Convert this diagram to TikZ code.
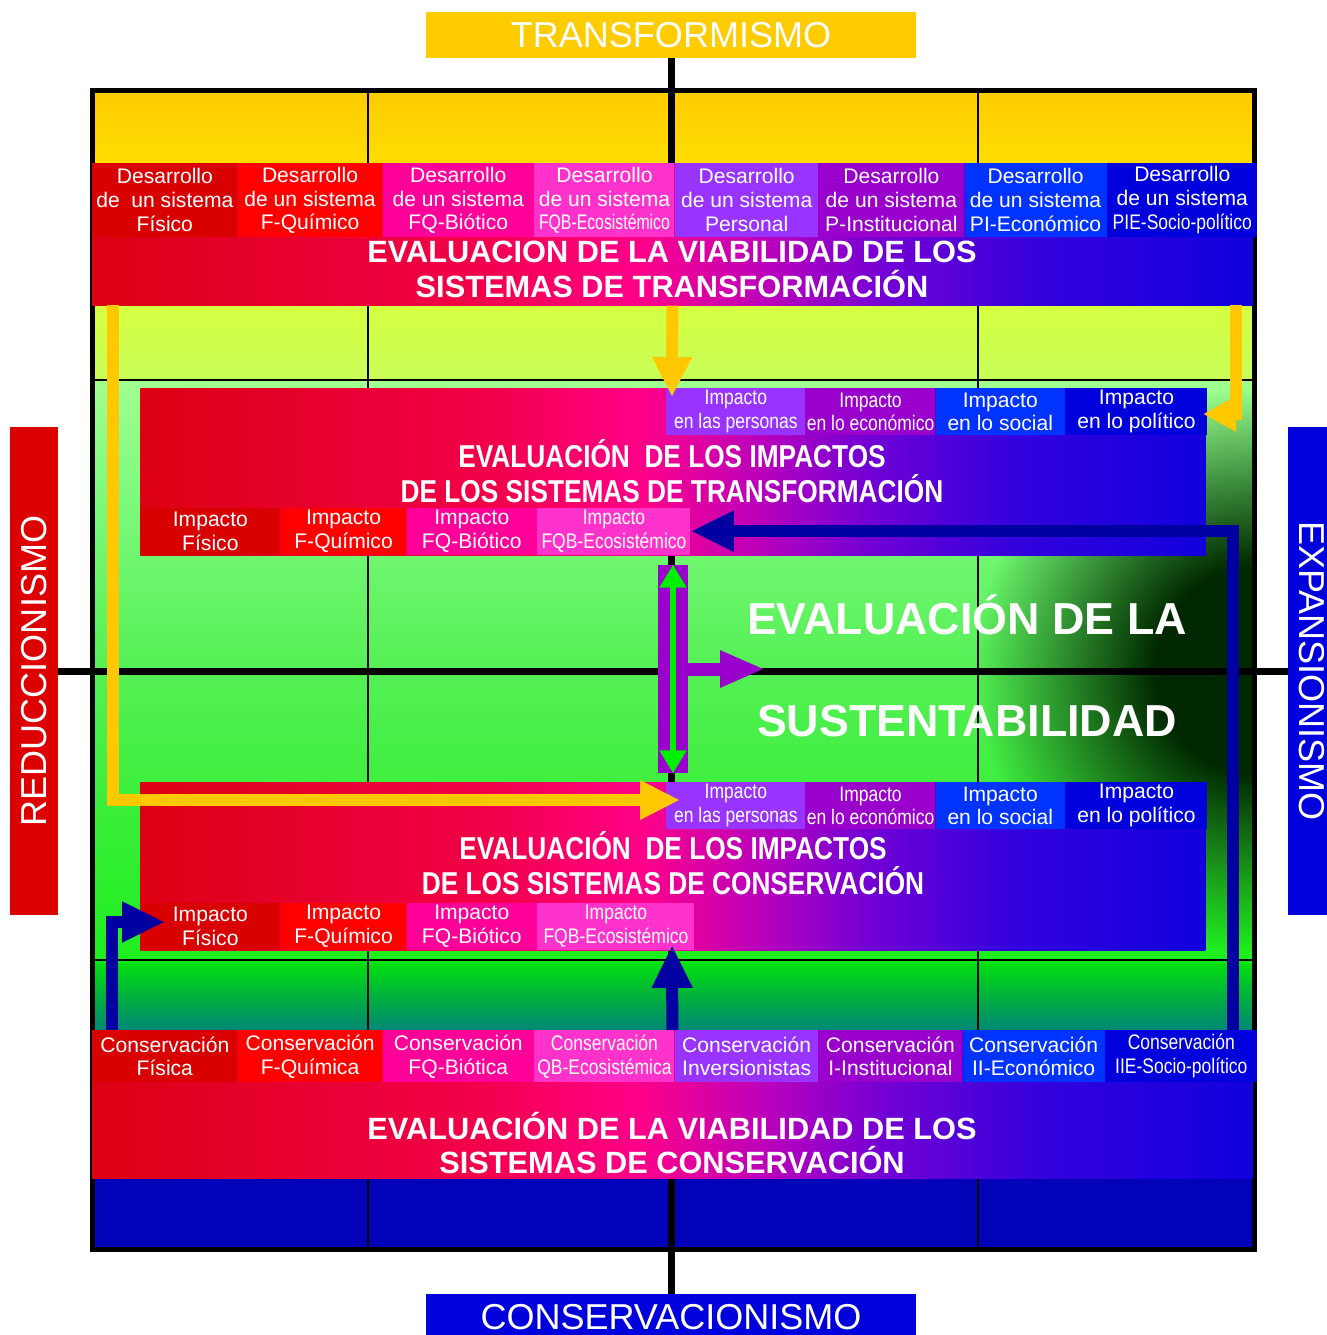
\documentclass[tikz,border=0pt]{standalone}
\usepackage{fontspec}
\setmainfont{Liberation Sans}
\newfontfamily\narrowsf[FakeStretch=0.83]{Liberation Sans}
\newfontfamily\tightsf[FakeStretch=0.75]{Liberation Sans}
\usepackage{tikz}
\usetikzlibrary{arrows.meta,positioning,fadings}

\definecolor{cellA}{HTML}{D80000}
\definecolor{cellB}{HTML}{FF0000}
\definecolor{cellC}{HTML}{FF0099}
\definecolor{cellD}{HTML}{FF33CC}
\definecolor{cellE}{HTML}{9933FF}
\definecolor{cellF}{HTML}{9900CC}
\definecolor{cellG}{HTML}{0033FF}
\definecolor{cellH}{HTML}{0000DD}
\definecolor{arrYel}{HTML}{FFC800}
\definecolor{arrBlue}{HTML}{0000A0}
\definecolor{arrGreen}{HTML}{00EE00}
\definecolor{sideRed}{HTML}{DD0000}
\definecolor{sideBlue}{HTML}{0000DD}
\definecolor{sideYel}{HTML}{FFCC00}
\definecolor{yelLow}{HTML}{FFDD00}
\definecolor{deepBlue}{HTML}{0202B8}
\definecolor{darkGreen}{HTML}{002800}
% band gradient stops
\definecolor{gA}{HTML}{DC0012}
\definecolor{gB}{HTML}{F2004A}
\definecolor{gC}{HTML}{FF0088}
\definecolor{gD}{HTML}{BB00BB}
\definecolor{gE}{HTML}{7400D4}
\definecolor{gF}{HTML}{3300DD}
\definecolor{gG}{HTML}{1100DD}
% field gradient stops
\definecolor{fA}{HTML}{008877}
\definecolor{fB}{HTML}{00AA44}
\definecolor{fC}{HTML}{00DD11}
\definecolor{fD}{HTML}{1EEE1E}
\definecolor{fE}{HTML}{33EE33}
\definecolor{fF}{HTML}{55F055}
\definecolor{fG}{HTML}{80FA80}
\definecolor{fH}{HTML}{A0FF90}
\definecolor{fI}{HTML}{C8FF58}
\definecolor{fJ}{HTML}{D6FF40}

% the path is mapped onto 25bp..75bp of each shading
\pgfdeclarehorizontalshading{evalshade}{100bp}{color(0bp)=(gA); color(25bp)=(gA); color(41.5bp)=(gB); color(48.5bp)=(gC); color(54bp)=(gD); color(59bp)=(gE); color(66bp)=(gF); color(75bp)=(gG); color(100bp)=(gG)}
\pgfdeclareverticalshading{fieldshade}{100bp}{color(0bp)=(fA); color(25bp)=(fA); color(27bp)=(fB); color(29.5bp)=(fC); color(30bp)=(fD); color(37.5bp)=(fE); color(50bp)=(fF); color(62.5bp)=(fG); color(69.75bp)=(fH); color(69.9bp)=(fI); color(75bp)=(fJ); color(100bp)=(fJ)}
\pgfdeclareradialshading{spotshade}{\pgfpointorigin}{color(0bp)=(pgftransparent!0); color(8.5bp)=(pgftransparent!0); color(23.5bp)=(pgftransparent!100); color(50bp)=(pgftransparent!100)}
\pgfdeclarefading{spotfade}{\pgfuseshading{spotshade}}

\tikzset{
  cellbox/.style={inner sep=0pt, text=white, align=center, font=\fontsize{12}{13.6}\selectfont},
  narrowbox/.style={cellbox, font=\narrowsf\fontsize{12}{13.6}\selectfont},
  devrow/.style={minimum height=14.8mm},
  improw/.style={minimum height=9.4mm},
  consrow/.style={minimum height=10.4mm},
  evalband/.style={shade, shading=evalshade, inner sep=0pt, anchor=north west},
  bandtitle/.style={text=white, align=center, inner sep=0pt, font=\bfseries\fontsize{17.5}{19.9}\selectfont},
  imptitle/.style={text=white, align=center, inner sep=0pt, font=\narrowsf\bfseries\fontsize{18}{19.9}\selectfont},
  sidebox/.style={text=white, inner sep=0pt, font=\fontsize{20.5}{24}\selectfont},
  axisline/.style={line width=1.4mm},
  gridline/.style={line width=0.5mm},
  yarr/.style={draw=arrYel, line width=2.4mm, -{Triangle[length=8mm,width=7.4mm]}},
  barr/.style={draw=arrBlue, line width=2.4mm, -{Triangle[length=8.6mm,width=7.6mm]}},
  garr/.style={draw=arrGreen, line width=1.2mm, {Triangle[length=4.6mm,width=5.2mm]}-{Triangle[length=4.6mm,width=5.2mm]}},
  parr/.style={draw=cellF, line width=2.6mm, -{Triangle[length=9mm,width=6.8mm]}}
}

\begin{document}
\begin{tikzpicture}[x=0.2mm, y=-0.2mm]
\useasboundingbox (0,0) rectangle (1327,1335);

% background field
\shade[top color=sideYel, bottom color=yelLow] (95,93) rectangle (1252,163);
\shade[shading=fieldshade] (95,305) rectangle (1252,1030);
\fill[deepBlue] (95,1178) rectangle (1252,1247);
\begin{scope}
  \clip (95,305) rectangle (1252,1030);
  \fill[darkGreen, path fading=spotfade] (1258,670) circle (300);
\end{scope}
\draw[gridline] (368,93) -- (368,1247) (978,93) -- (978,1247);
\draw[gridline] (95,380) -- (1252,380) (95,960) -- (1252,960);
\draw[line width=1mm] (92.5,90.5) rectangle (1254.5,1249.5);

% side labels and axes
\node[sidebox, fill=sideYel, minimum width=98mm, minimum height=9.2mm] (transf) at (671,35) {TRANSFORMISMO};
\node[sidebox, fill=sideBlue, minimum width=98mm, minimum height=9.2mm] (conserv) at (671,1317) {CONSERVACIONISMO};
\node[sidebox, fill=sideRed, minimum width=97.6mm, minimum height=9.6mm, rotate=90] (reduc) at (34,671) {REDUCCIONISMO};
\node[sidebox, fill=sideBlue, minimum width=97.6mm, minimum height=9.6mm, rotate=-90] (expan) at (1312,671) {EXPANSIONISMO};
\draw[axisline] (transf) -- (conserv);
\draw[axisline] (reduc) -- (expan);

% development band
\node[evalband, minimum width=232mm, minimum height=28.4mm] (tband) at (92,163) {};
\node[cellbox, devrow, fill=cellA, minimum width=29mm, anchor=north west] (dev1) at (92,163) {Desarrollo\\de\ \ un sistema\\Físico};
\node[cellbox, devrow, fill=cellB, minimum width=28.8mm, right=0pt of dev1] (dev2) {Desarrollo\\de un sistema\\F-Químico};
\node[cellbox, devrow, fill=cellC, minimum width=30.2mm, right=0pt of dev2] (dev3) {Desarrollo\\de un sistema\\FQ-Biótico};
\node[cellbox, devrow, fill=cellD, minimum width=28mm, right=0pt of dev3] (dev4) {Desarrollo\\de un sistema\\{\tightsf FQB-Ecosistémico}};
\node[cellbox, devrow, fill=cellE, minimum width=28.6mm, right=0pt of dev4] (dev5) {Desarrollo\\de un sistema\\Personal};
\node[cellbox, devrow, fill=cellF, minimum width=29mm, right=0pt of dev5] (dev6) {Desarrollo\\de un sistema\\P-Institucional};
\node[cellbox, devrow, fill=cellG, minimum width=28.4mm, right=0pt of dev6] (dev7) {Desarrollo\\de un sistema\\PI-Económico};
\node[cellbox, devrow, fill=cellH, minimum width=30mm, right=0pt of dev7] (dev8) {Desarrollo\\de un sistema\\{\narrowsf PIE-Socio-político}};
\node[bandtitle] (devtitle) at (672,269) {EVALUACION DE LA VIABILIDAD DE LOS\\SISTEMAS DE TRANSFORMACIÓN};

% impacts of transformation
\node[evalband, minimum width=213mm, minimum height=33.4mm] (impT) at (140,388) {};
\node[narrowbox, improw, fill=cellE, minimum width=27.8mm, anchor=north west] (impT1) at (666,388) {Impacto\\en las personas};
\node[narrowbox, improw, fill=cellF, minimum width=25.8mm, right=0pt of impT1] (impT2) {Impacto\\en lo económico};
\node[cellbox, improw, fill=cellG, minimum width=25.8mm, right=0pt of impT2] (impT3) {Impacto\\en lo social};
\node[cellbox, improw, fill=cellH, minimum width=28.4mm, right=0pt of impT3] (impT4) {Impacto\\en lo político};
\node[cellbox, improw, fill=cellA, minimum width=28mm, anchor=south west] (impT5) at (140,555) {Impacto\\Físico};
\node[cellbox, improw, fill=cellB, minimum width=25mm, right=0pt of impT5] (impT6) {Impacto\\F-Químico};
\node[cellbox, improw, fill=cellC, minimum width=26mm, right=0pt of impT6] (impT7) {Impacto\\FQ-Biótico};
\node[narrowbox, improw, fill=cellD, minimum width=30.6mm, right=0pt of impT7] (impT8) {Impacto\\FQB-Ecosistémico};
\node[imptitle] (impTtitle) at (672,471) {EVALUACIÓN\ \ DE LOS IMPACTOS\\DE LOS SISTEMAS DE TRANSFORMACIÓN};

% impacts of conservation
\node[evalband, minimum width=213mm, minimum height=33.6mm] (impC) at (140,782) {};
\node[narrowbox, improw, fill=cellE, minimum width=27.8mm, anchor=north west] (impC1) at (666,782) {Impacto\\en las personas};
\node[narrowbox, improw, fill=cellF, minimum width=25.8mm, right=0pt of impC1] (impC2) {Impacto\\en lo económico};
\node[cellbox, improw, fill=cellG, minimum width=25.8mm, right=0pt of impC2] (impC3) {Impacto\\en lo social};
\node[cellbox, improw, fill=cellH, minimum width=28.4mm, right=0pt of impC3] (impC4) {Impacto\\en lo político};
\node[cellbox, improw, fill=cellA, minimum width=28mm, anchor=south west] (impC5) at (140,950) {Impacto\\Físico};
\node[cellbox, improw, fill=cellB, minimum width=25mm, right=0pt of impC5] (impC6) {Impacto\\F-Químico};
\node[cellbox, improw, fill=cellC, minimum width=26mm, right=0pt of impC6] (impC7) {Impacto\\FQ-Biótico};
\node[narrowbox, improw, fill=cellD, minimum width=31.4mm, right=0pt of impC7] (impC8) {Impacto\\FQB-Ecosistémico};
\node[imptitle] (impCtitle) at (673,863) {EVALUACIÓN\ \ DE LOS IMPACTOS\\DE LOS SISTEMAS DE CONSERVACIÓN};

% conservation band
\node[evalband, minimum width=232mm, minimum height=29.6mm] (cband) at (92,1030) {};
\node[cellbox, consrow, fill=cellA, minimum width=29mm, anchor=north west] (con1) at (92,1030) {Conservación\\Física};
\node[cellbox, consrow, fill=cellB, minimum width=28.8mm, right=0pt of con1] (con2) {Conservación\\F-Química};
\node[cellbox, consrow, fill=cellC, minimum width=30.2mm, right=0pt of con2] (con3) {Conservación\\FQ-Biótica};
\node[narrowbox, consrow, fill=cellD, minimum width=28mm, right=0pt of con3] (con4) {Conservación\\QB-Ecosistémica};
\node[cellbox, consrow, fill=cellE, minimum width=28.6mm, right=0pt of con4] (con5) {Conservación\\Inversionistas};
\node[cellbox, consrow, fill=cellF, minimum width=28.6mm, right=0pt of con5] (con6) {Conservación\\I-Institucional};
\node[cellbox, consrow, fill=cellG, minimum width=28.4mm, right=0pt of con6] (con7) {Conservación\\II-Económico};
\node[narrowbox, consrow, fill=cellH, minimum width=30.4mm, right=0pt of con7] (con8) {Conservación\\IIE-Socio-político};
\node[bandtitle] (contitle) at (672,1143) {EVALUACIÓN DE LA VIABILIDAD DE LOS\\SISTEMAS DE CONSERVACIÓN};

% yellow arrows
\coordinate (yl0) at (113,305);
\coordinate (yl1) at (680,800);
\coordinate (ym1) at (672,397);
\coordinate (yr0) at (1236,305);
\coordinate (yr1) at (1203,414);
\draw[yarr] (yl0) |- (yl1);
\draw[yarr] (tband.south) -- (ym1);
\draw[yarr, -{Triangle[length=6.6mm,width=6.6mm]}] (yr0) |- (yr1);

% blue arrows
\coordinate (br0) at (1233,1030);
\coordinate (bl0) at (112,1030);
\coordinate (bl1) at (165,922);
\coordinate (bm1) at (672,945);
\draw[barr] (br0) |- (impT8.east);
\draw[barr] (bl0) |- (bl1);
\draw[barr] (cband.north) -- (bm1);

% link between impacts and sustainability
\node[fill=cellF, minimum width=6mm, minimum height=41.6mm, inner sep=0pt] (linkbar) at (673,669) {};
\draw[garr] (linkbar.north) -- (linkbar.south);
\coordinate (pa1) at (765,669);
\draw[parr] (linkbar.east) -- (pa1);

\node[text=white, align=center, inner sep=0pt, font=\bfseries\fontsize{25.5}{58}\selectfont] (sust) at (967,666) {EVALUACIÓN DE LA\\SUSTENTABILIDAD};
\end{tikzpicture}
\end{document}
